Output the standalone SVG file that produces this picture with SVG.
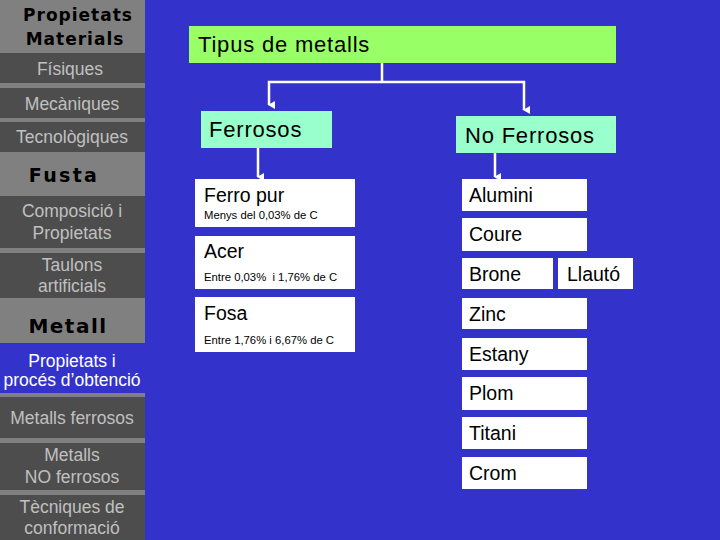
<svg xmlns="http://www.w3.org/2000/svg" width="720" height="540" viewBox="0 0 720 540">
<style>
text{font-family:"Liberation Sans",Arial,sans-serif}
.side{fill:#c0c0c0;font-size:17.5px;text-anchor:middle}
.hdr{fill:#000;font-weight:bold;text-anchor:middle;font-family:"DejaVu Sans",Verdana,sans-serif}
.dark{fill:#4d4d4d}
.big{font-size:22px;letter-spacing:0.8px;fill:#000}
.mid{font-size:19.5px;fill:#000}
.sm{font-size:11.3px;fill:#000;white-space:pre}
.box{fill:#fff}
.con{stroke:#fff;stroke-width:2.5;fill:none}
</style>
<defs>
<marker id="ah" markerWidth="8" markerHeight="7" refX="4" refY="6" orient="auto-start-reverse" markerUnits="userSpaceOnUse" viewBox="0 0 8 7">
<path d="M0,0 L8,0 L4,7 Z" fill="#fff"/>
</marker>
</defs>
<rect width="720" height="540" fill="#3333cc"/>
<g id="sidebar">
<rect x="0" y="0" width="145" height="540" fill="#808080"/>
<g id="s-propmat"><text class="hdr" x="78" y="21" font-size="17" letter-spacing="1">Propietats</text><text class="hdr" x="75" y="45" font-size="17" letter-spacing="1">Materials</text></g>
<g id="s-fisiques"><rect class="dark" x="0" y="53" width="145" height="30"/><text class="side" x="70" y="75">Físiques</text></g>
<g id="s-mecaniques"><rect class="dark" x="0" y="88" width="145" height="30"/><text class="side" x="72" y="110">Mecàniques</text></g>
<g id="s-tecnologiques"><rect class="dark" x="0" y="122" width="145" height="30"/><text class="side" x="72" y="143">Tecnològiques</text></g>
<g id="s-fusta"><text class="hdr" x="64" y="182" font-size="19" letter-spacing="2.3">Fusta</text></g>
<g id="s-composicio"><rect class="dark" x="0" y="196" width="145" height="52"/><text class="side" x="72" y="217">Composició i</text><text class="side" x="72" y="239">Propietats</text></g>
<g id="s-taulons"><rect class="dark" x="0" y="253" width="145" height="45"/><text class="side" x="72" y="271">Taulons</text><text class="side" x="72" y="292">artificials</text></g>
<g id="s-metall"><text class="hdr" x="68" y="333" font-size="20" letter-spacing="1.5">Metall</text></g>
<g id="s-propproces"><rect x="0" y="343" width="145" height="50" fill="#3333cc"/><text class="side" x="72" y="367" style="fill:#fff">Propietats i</text><text class="side" x="72" y="386" style="fill:#fff">procés d’obtenció</text></g>
<g id="s-mferrosos"><rect class="dark" x="0" y="397" width="145" height="41"/><text class="side" x="72" y="424">Metalls ferrosos</text></g>
<g id="s-mnoferrosos"><rect class="dark" x="0" y="443" width="145" height="47"/><text class="side" x="72" y="461">Metalls</text><text class="side" x="72" y="483">NO ferrosos</text></g>
<g id="s-tecniques"><rect class="dark" x="0" y="495" width="145" height="45"/><text class="side" x="72" y="513">Tècniques de</text><text class="side" x="72" y="534">conformació</text></g>
</g>
<g id="connectors">
<path class="con" d="M382,63 V82"/>
<path class="con" d="M269,105 V82 H524 V110" marker-start="url(#ah)" marker-end="url(#ah)"/>
<path class="con" d="M258,148 V177" marker-end="url(#ah)"/>
<path class="con" d="M495,153 V177" marker-end="url(#ah)"/>
</g>
<g id="tipus"><rect x="189" y="26" width="427" height="37" fill="#99ff66"/><text class="big" x="198" y="52">Tipus de metalls</text></g>
<g id="ferrosos"><rect x="201" y="111" width="131" height="37" fill="#99ffcc"/><text class="big" x="209" y="137">Ferrosos</text></g>
<g id="noferrosos"><rect x="456" y="116" width="160" height="37" fill="#99ffcc"/><text class="big" x="465" y="143">No Ferrosos</text></g>
<g id="ferropur"><rect class="box" x="195" y="179" width="160" height="48"/><text class="mid" x="204" y="202">Ferro pur</text><text class="sm" x="204" y="219">Menys del 0,03% de C</text></g>
<g id="acer"><rect class="box" x="195" y="236" width="160" height="53"/><text class="mid" x="204" y="258">Acer</text><text class="sm" x="204" y="281">Entre 0,03%  i 1,76% de C</text></g>
<g id="fosa"><rect class="box" x="195" y="297" width="160" height="55"/><text class="mid" x="204" y="320">Fosa</text><text class="sm" x="204" y="344">Entre 1,76% i 6,67% de C</text></g>
<g id="alumini"><rect class="box" x="462" y="179" width="125" height="32"/><text class="mid" x="469" y="202">Alumini</text></g>
<g id="coure"><rect class="box" x="462" y="218" width="125" height="33"/><text class="mid" x="469" y="241">Coure</text></g>
<g id="brone"><rect class="box" x="462" y="258" width="91" height="31"/><text class="mid" x="469" y="281">Brone</text></g>
<g id="llauto"><rect class="box" x="558" y="258" width="75" height="31"/><text class="mid" x="567" y="281">Llautó</text></g>
<g id="zinc"><rect class="box" x="462" y="298" width="125" height="31"/><text class="mid" x="469" y="321">Zinc</text></g>
<g id="estany"><rect class="box" x="462" y="338" width="125" height="32"/><text class="mid" x="469" y="361">Estany</text></g>
<g id="plom"><rect class="box" x="462" y="377" width="125" height="33"/><text class="mid" x="469" y="400">Plom</text></g>
<g id="titani"><rect class="box" x="462" y="417" width="125" height="32"/><text class="mid" x="469" y="440">Titani</text></g>
<g id="crom"><rect class="box" x="462" y="457" width="125" height="32"/><text class="mid" x="469" y="480">Crom</text></g>
</svg>
